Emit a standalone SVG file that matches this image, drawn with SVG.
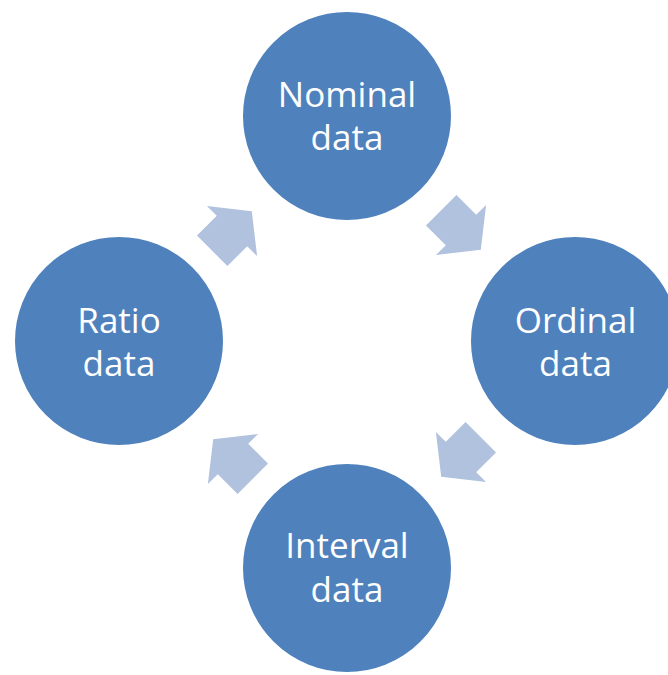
<svg xmlns="http://www.w3.org/2000/svg" width="668" height="675" viewBox="0 0 668 675">
<style>
.node circle{fill:#4F81BD;stroke:#FFFFFF;stroke-width:2}
.node text{fill:#FFFFFF;font-family:"Open Sans","Noto Sans","DejaVu Sans",sans-serif;font-size:35px;text-anchor:middle}
.arrow{fill:#B0C2DE}
</style>
<defs>
<path id="blockArrow" d="M-28,-21.5 L0,-21.5 L0,-35.5 L28,0 L0,35.5 L0,21.5 L-28,21.5 Z"/>
</defs>
<rect width="668" height="675" fill="#FFFFFF"/>
<g id="connectors">
<use href="#blockArrow" class="arrow" transform="translate(232,231) rotate(-45)"/>
<use href="#blockArrow" class="arrow" transform="translate(461,230) rotate(45)"/>
<use href="#blockArrow" class="arrow" transform="translate(461,457) rotate(135)"/>
<use href="#blockArrow" class="arrow" transform="translate(233,459) rotate(-135)"/>
</g>
<g id="nominal" class="node">
<circle cx="347" cy="116" r="105"/>
<text x="347" y="107">Nominal</text>
<text x="347" y="150">data</text>
</g>
<g id="ordinal" class="node">
<circle cx="575" cy="341" r="105"/>
<text x="575.5" y="332.5">Ordinal</text>
<text x="575.5" y="376">data</text>
</g>
<g id="interval" class="node">
<circle cx="347" cy="568" r="105"/>
<text x="347" y="558">Interval</text>
<text x="347" y="601.5">data</text>
</g>
<g id="ratio" class="node">
<circle cx="119" cy="341" r="105"/>
<text x="119" y="332.5">Ratio</text>
<text x="119" y="376">data</text>
</g>
</svg>
